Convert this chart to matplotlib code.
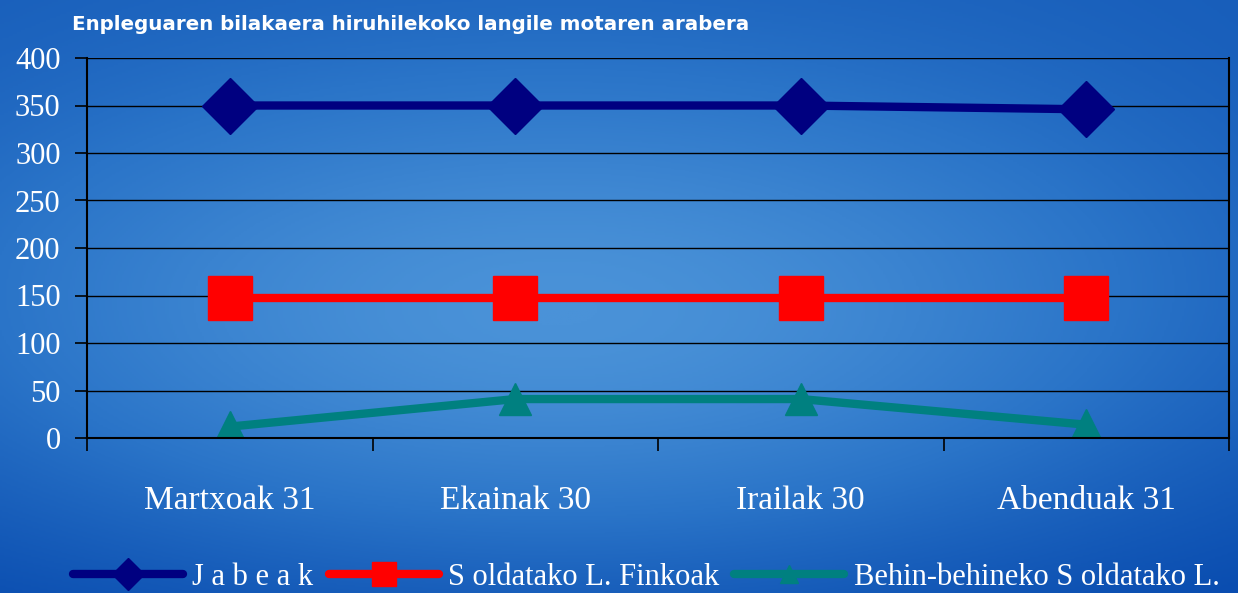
import numpy as np
import matplotlib.pyplot as plt
from matplotlib.colors import LinearSegmentedColormap

# datos
categories = ['Martxoak 31', 'Ekainak 30', 'Irailak 30', 'Abenduak 31']
jabeak = [350, 350, 350, 346]
soldatako_finkoak = [147, 147, 147, 147]
behin_behineko = [12, 41, 41, 14]
series_labels = ['J a b e a k', 'S oldatako L. Finkoak', 'Behin-behineko S oldatako L.']

fig = plt.figure(figsize=(12.38, 5.93), dpi=100)

# fondo degradado azul
bg = fig.add_axes([0, 0, 1, 1], zorder=-10)
yy, xx = np.mgrid[0:1:300j, 0:1:600j]
val = 0.55 * np.exp(-((xx - 0.45) ** 2 / 0.3 + (yy - 0.55) ** 2 / 0.2)) + 0.15 * (1 - yy)
cmap = LinearSegmentedColormap.from_list('bgblue', ['#0a4db0', '#2a74c8', '#4a92d8'])
bg.imshow(val, cmap=cmap, aspect='auto', extent=[0, 1, 0, 1], origin='upper')
bg.axis('off')

ax = fig.add_axes([87 / 1238, 1 - 438 / 593, (1229 - 87) / 1238, (438 - 58) / 593])
ax.patch.set_alpha(0)

x = np.arange(len(categories))
ax.plot(x, jabeak, color='#000080', lw=6, marker='D', ms=29, label=series_labels[0])
ax.plot(x, soldatako_finkoak, color='#ff0000', lw=6, marker='s', ms=31, label=series_labels[1])
ax.plot(x, behin_behineko, color='#008080', lw=6, marker='^', ms=23, label=series_labels[2])

ax.set_xlim(-0.5, len(categories) - 0.5)
ax.set_ylim(0, 400)
ax.set_yticks(range(0, 401, 50))
ax.yaxis.grid(True, color='black', lw=1)
ax.set_axisbelow(True)

ax.set_xticks(x)
ax.set_xticklabels(categories)
ax.set_xticks(np.arange(-0.5, len(categories)), minor=True)
ax.tick_params(axis='x', which='major', length=0, pad=34)
ax.tick_params(axis='x', which='minor', length=9, width=1.2, color='black', direction='out')
ax.tick_params(axis='y', length=9, width=1.2, color='black', direction='out', pad=10)

for lbl in ax.get_xticklabels():
    lbl.set_fontfamily('Liberation Serif')
    lbl.set_fontsize(24)
    lbl.set_color('white')
for lbl in ax.get_yticklabels():
    lbl.set_fontfamily('Liberation Serif')
    lbl.set_fontsize(22)
    lbl.set_color('white')

ax.spines['top'].set_visible(False)
for s in ['left', 'bottom', 'right']:
    ax.spines[s].set_color('black')
    ax.spines[s].set_linewidth(1.5)

fig.text(72 / 1238, 1 - 24 / 593, 'Enpleguaren bilakaera hiruhilekoko langile motaren arabera',
         fontsize=14.3, fontweight='bold', color='white', va='center', fontfamily='DejaVu Sans')

leg = fig.legend(loc='lower center', bbox_to_anchor=(0.522, -0.045), ncol=3, frameon=False,
                 handlelength=3.6, columnspacing=0.5, handletextpad=0.3,
                 prop={'family': 'Liberation Serif', 'size': 22}, markerscale=0.55)
for t in leg.get_texts():
    t.set_color('white')
for h in leg.legend_handles:
    h.set_solid_capstyle('round')

fig.savefig('out.png', dpi=100)
